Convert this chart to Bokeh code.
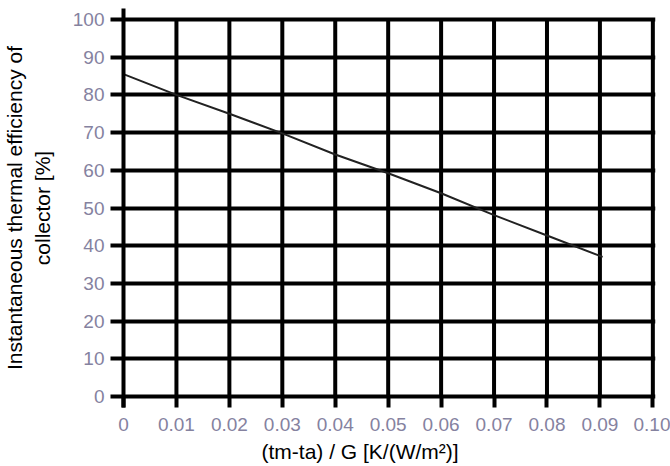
from bokeh.plotting import figure
from bokeh.models import FixedTicker, Range1d, Title
from bokeh.embed import file_html
from bokeh.resources import INLINE

# ---- data ----
x_ticks = [0, 0.01, 0.02, 0.03, 0.04, 0.05, 0.06, 0.07, 0.08, 0.09, 0.10]
x_labels = ["0", "0.01", "0.02", "0.03", "0.04", "0.05", "0.06", "0.07", "0.08", "0.09", "0.10"]
y_ticks = [0, 10, 20, 30, 40, 50, 60, 70, 80, 90, 100]
y_labels = ["0", "10", "20", "30", "40", "50", "60", "70", "80", "90", "100"]

eff_x = [0.0, 0.01, 0.02, 0.03, 0.04, 0.05, 0.06, 0.07, 0.08, 0.09, 0.0905]
eff_y = [85.5, 80.0, 75.0, 69.8, 64.2, 59.2, 53.9, 48.1, 42.7, 37.3, 37.0]

x_title = "(tm-ta) / G [K/(W/m\u00b2)]"
y_title = "Instantaneous thermal efficiency of\ncollector [%]"

FONT = "Liberation Sans"
TICK_COLOR = "#85829f"

p = figure(width=670, height=466, output_backend="svg", toolbar_location=None,
           x_range=Range1d(0, 0.1005), y_range=Range1d(-2.9, 102.9),
           min_border_left=123, min_border_right=15, min_border_top=8, min_border_bottom=58)
p.outline_line_color = None
p.background_fill_color = "white"
p.border_fill_color = "white"

# grid: horizontal via ygrid, vertical as segments between the y limits
p.xgrid.visible = False
p.ygrid.ticker = FixedTicker(ticks=y_ticks)
p.ygrid.grid_line_color = "black"
p.ygrid.grid_line_width = 4
p.segment(x0=x_ticks[1:], y0=[y_ticks[0]] * (len(x_ticks) - 1),
          x1=x_ticks[1:], y1=[y_ticks[-1]] * (len(x_ticks) - 1),
          line_color="black", line_width=4)

# data line
p.line(eff_x, eff_y, line_color="#222222", line_width=2)

# y axis
ya = p.yaxis[0]
ya.ticker = FixedTicker(ticks=y_ticks)
ya.major_label_overrides = {t: l for t, l in zip(y_ticks, y_labels)}
ya.axis_line_color = "black"
ya.axis_line_width = 4
ya.major_tick_line_color = "black"
ya.major_tick_line_width = 4
ya.major_tick_out = 13
ya.major_tick_in = 0
ya.minor_tick_line_color = None
ya.major_label_text_font = FONT
ya.major_label_text_font_size = "19px"
ya.major_label_text_color = TICK_COLOR
ya.major_label_standoff = 6
ya.axis_label = y_title
ya.axis_label_text_font = FONT
ya.axis_label_text_font_size = "21px"
ya.axis_label_text_font_style = "normal"
ya.axis_label_text_color = "black"
ya.axis_label_standoff = 16

# x axis (at bottom of frame, ticks pointing up to y=0)
xa = p.xaxis[0]
xa.ticker = FixedTicker(ticks=x_ticks)
xa.major_label_overrides = {t: l for t, l in zip(x_ticks, x_labels)}
xa.axis_line_color = None
xa.major_tick_line_color = "black"
xa.major_tick_line_width = 4
xa.major_tick_in = 11
xa.major_tick_out = 0
xa.minor_tick_line_color = None
xa.major_label_text_font = FONT
xa.major_label_text_font_size = "19px"
xa.major_label_text_color = TICK_COLOR
xa.major_label_standoff = 10

t = Title(text=x_title, align="left", offset=138, standoff=8,
          text_font=FONT, text_font_size="21px", text_font_style="normal",
          text_color="black")
p.add_layout(t, "below")

open("out.html", "w").write(file_html(p, INLINE))
